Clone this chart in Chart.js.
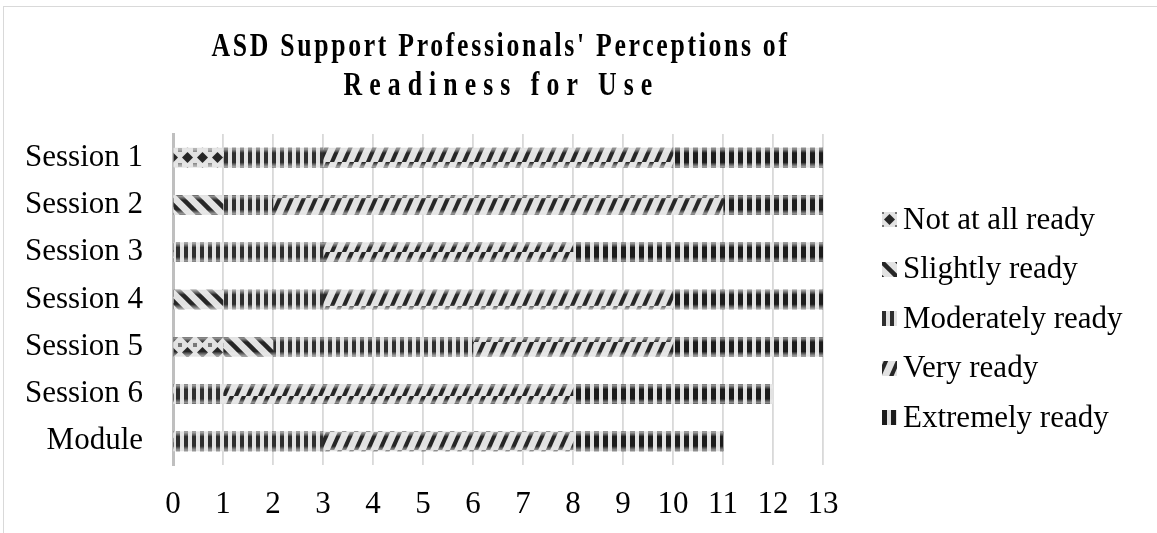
<!DOCTYPE html>
<html>
<head>
<meta charset="utf-8">
<script src="https://cdn.jsdelivr.net/npm/chart.js@4"></script>
<style>
  html, body { margin: 0; padding: 0; background: #fff; }
  #wrap { position: relative; width: 1157px; height: 533px; overflow: hidden; font-family: "Liberation Serif", "Times New Roman", serif; }
  #frame { position: absolute; left: 3px; top: 6px; width: 1170px; height: 560px; border: 1.5px solid #d9d9d9; }
  #chart { position: absolute; left: 0; top: 0; }
  #title { position: absolute; left: 0; width: 1002px; top: 26px; text-align: center; }
  #title span {
    display: inline-block; white-space: nowrap;
    font-weight: bold; font-size: 33px; line-height: 39px; color: #000;
    transform-origin: center;
  }
  #legend { position: absolute; left: 882px; top: 194px; }
  .item { display: flex; align-items: center; height: 49.5px; font-size: 31px; color: #000; white-space: nowrap; }
  .item canvas { width: 15px; height: 15px; margin-right: 6px; margin-top: 2px; }
</style>
</head>
<body>
<div id="wrap">
  <div id="frame"></div>
  <canvas id="chart" width="1157" height="533"></canvas>
  <div id="title"><span>ASD Support Professionals' Perceptions of</span><br><span>Readiness for Use</span></div>
  <div id="legend"></div>
</div>
<script>
// Data
const categories = ['Session 1', 'Session 2', 'Session 3', 'Session 4', 'Session 5', 'Session 6', 'Module'];
const seriesNames = ['Not at all ready', 'Slightly ready', 'Moderately ready', 'Very ready', 'Extremely ready'];
const notAtAll   = [1, 0, 0, 0, 1, 0, 0];
const slightly   = [0, 1, 0, 1, 1, 0, 0];
const moderately = [2, 1, 3, 2, 4, 1, 3];
const very       = [7, 9, 5, 7, 4, 7, 5];
const extremely  = [3, 2, 5, 3, 3, 4, 3];
const xTicks = [0, 1, 2, 3, 4, 5, 6, 7, 8, 9, 10, 11, 12, 13];

// Patterns
const LIGHT = '#e2e2e2';
const DARK = '#262626';

function makePattern(w, h, draw) {
  const c = document.createElement('canvas');
  c.width = w; c.height = h;
  const g = c.getContext('2d');
  g.fillStyle = LIGHT;
  g.fillRect(0, 0, w, h);
  draw(g, w, h);
  return g.createPattern(c, 'repeat');
}

// diagonal line family that tiles across a w x h cell
function diagLines(g, w, h, lw, forward) {
  g.strokeStyle = DARK; g.lineWidth = lw; g.lineCap = 'butt';
  for (let k = -1; k <= 2; k++) {
    g.beginPath();
    if (forward) { g.moveTo(k * w - w, 2 * h); g.lineTo(k * w + w, -h); }
    else { g.moveTo(k * w - w, -h); g.lineTo(k * w + 2 * w, 2 * h); }
    g.stroke();
  }
}

const diamondPat = makePattern(15, 15, (g, w, h) => {
  g.fillStyle = DARK;
  g.beginPath();
  g.moveTo(w / 2, 2); g.lineTo(w - 2, h / 2); g.lineTo(w / 2, h - 2); g.lineTo(2, h / 2);
  g.closePath(); g.fill();
  g.fillStyle = '#777';
  g.fillRect(0, 0, 2, 2); g.fillRect(w - 2, 0, 2, 2); g.fillRect(0, h - 2, 2, 2); g.fillRect(w - 2, h - 2, 2, 2);
});

const backDiagPat = makePattern(16, 16, (g, w, h) => {
  g.strokeStyle = DARK; g.lineWidth = 4.5;
  [-w, 0, w].forEach(dx => {
    g.beginPath(); g.moveTo(dx - w, -h); g.lineTo(dx + 2 * w, 2 * h); g.stroke();
  });
});

const vertPatMod = makePattern(8, 8, (g) => {
  g.fillStyle = '#2e2e2e';
  g.fillRect(0, 0, 4, 8);
});

const fwdDiagPat = makePattern(12, 18, (g, w, h) => diagLines(g, w, h, 4, true));

const vertPatExt = makePattern(9, 8, (g) => {
  g.fillStyle = '#1c1c1c';
  g.fillRect(0, 0, 5, 8);
});

// soft shine on bars, like the reference's bevel
const shine = {
  id: 'shine',
  afterDatasetsDraw(chart) {
    const ctx = chart.ctx;
    chart.data.datasets.forEach((ds, i) => {
      chart.getDatasetMeta(i).data.forEach(bar => {
        const p = bar.getProps(['x', 'y', 'base', 'height'], true);
        const left = Math.min(p.x, p.base), right = Math.max(p.x, p.base);
        if (right - left < 0.5) return;
        const top = p.y - p.height / 2, bottom = p.y + p.height / 2;
        const grad = ctx.createLinearGradient(0, top, 0, bottom);
        grad.addColorStop(0, 'rgba(225,225,225,0.7)');
        grad.addColorStop(0.25, 'rgba(255,255,255,0)');
        grad.addColorStop(0.75, 'rgba(255,255,255,0)');
        grad.addColorStop(1, 'rgba(225,225,225,0.7)');
        ctx.save();
        ctx.fillStyle = grad;
        ctx.fillRect(left, top, right - left, bottom - top);
        ctx.restore();
      });
    });
  }
};

const FONT = '"Liberation Serif", "Times New Roman", serif';
Chart.defaults.font.family = FONT;
Chart.defaults.color = '#000';

const fills = [diamondPat, backDiagPat, vertPatMod, fwdDiagPat, vertPatExt];
const values = [notAtAll, slightly, moderately, very, extremely];

new Chart(document.getElementById('chart'), {
  type: 'bar',
  data: {
    labels: categories,
    datasets: seriesNames.map((name, i) => ({
      label: name,
      data: values[i],
      backgroundColor: fills[i],
      borderWidth: 0,
      barThickness: 19
    }))
  },
  options: {
    indexAxis: 'y',
    responsive: false,
    animation: false,
    layout: { padding: { top: 134, left: 26, right: 334, bottom: 12 } },
    plugins: {
      title: { display: false },
      tooltip: { enabled: false },
      legend: { display: false }
    },
    scales: {
      x: {
        stacked: true,
        min: 0,
        max: 13,
        afterBuildTicks: axis => { axis.ticks = xTicks.map(v => ({ value: v })); },
        afterFit: s => { s.height = 56; },
        grid: { color: '#d9d9d9', lineWidth: 1.8, drawTicks: false },
        border: { display: false },
        ticks: { padding: 21, font: { size: 31 }, color: '#000' }
      },
      y: {
        stacked: true,
        afterFit: s => { s.width = 147; },
        grid: { display: false, drawTicks: false },
        border: { color: '#bfbfbf', width: 3 },
        ticks: { padding: 30, font: { size: 31 }, color: '#000' }
      }
    }
  },
  plugins: [shine]
});

// HTML legend with pattern swatches
const legendEl = document.getElementById('legend');
seriesNames.forEach((name, i) => {
  const row = document.createElement('div');
  row.className = 'item';
  const sw = document.createElement('canvas');
  sw.width = 15; sw.height = 15;
  const g = sw.getContext('2d');
  g.fillStyle = fills[i];
  g.fillRect(0, 0, 15, 15);
  row.appendChild(sw);
  row.appendChild(document.createTextNode(name));
  legendEl.appendChild(row);
});

// narrow, widely spaced title letters as in the reference
const titleScale = 0.78;
const titleWidths = [578, 316];
document.querySelectorAll('#title span').forEach((s, i) => {
  s.style.letterSpacing = '0px';
  const natural = s.offsetWidth;
  const n = s.textContent.length;
  const ls = (titleWidths[i] / titleScale - natural) / n;
  s.style.letterSpacing = ls.toFixed(2) + 'px';
  s.style.transform = 'scaleX(' + (titleWidths[i] / s.offsetWidth).toFixed(3) + ')';
});
</script>
</body>
</html>
